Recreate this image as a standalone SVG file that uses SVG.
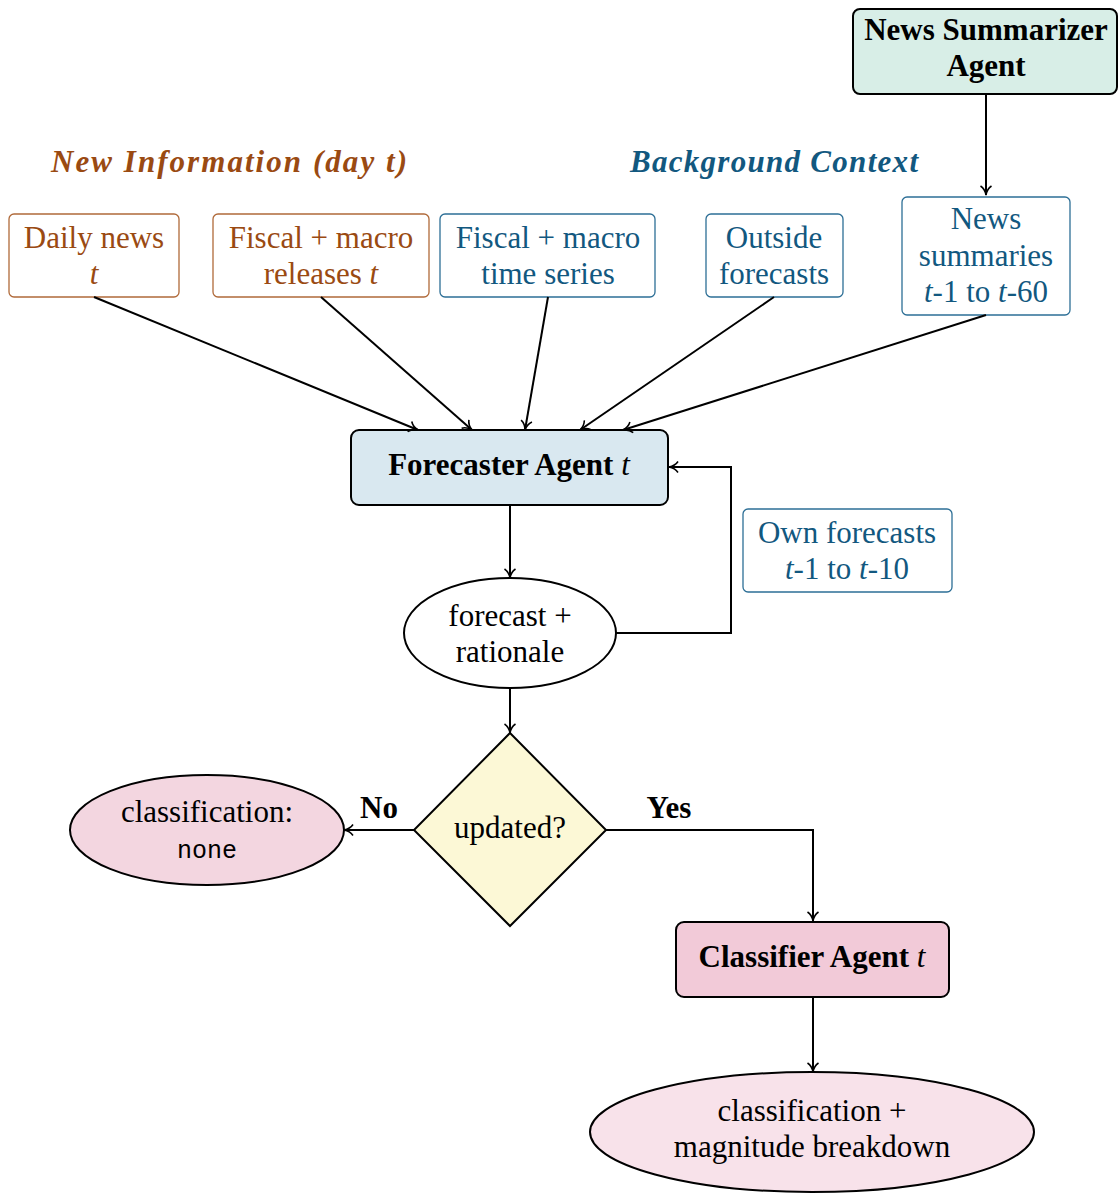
<svg xmlns="http://www.w3.org/2000/svg" width="1118" height="1194" viewBox="0 0 1118 1194">
<defs>
<marker id="arr" markerWidth="14" markerHeight="14" refX="11" refY="7" orient="auto" markerUnits="userSpaceOnUse">
<path d="M2,1.5 C4,4.5 7,6.3 11,7 C7,7.7 4,9.5 2,12.5" fill="none" stroke="#000" stroke-width="1.6"/>
</marker>
</defs>
<style>
text{font-family:"Liberation Serif","DejaVu Serif",serif;font-size:31px;text-anchor:middle}
.b{font-weight:bold}
.i{font-style:italic}
.brown{fill:#9a4a12}
.blue{fill:#12587f}
.boxb{fill:#fff;stroke:#b06a3a;stroke-width:1.3}
.boxl{fill:#fff;stroke:#2d6f96;stroke-width:1.3}
.agent{stroke:#000;stroke-width:2}
.mono{font-family:"Liberation Mono","DejaVu Sans Mono",monospace;font-size:25px}
.edge{fill:none;stroke:#000;stroke-width:2;marker-end:url(#arr)}
</style>
<rect width="1118" height="1194" fill="#fff"/>

<g id="title-new">
<text class="b i brown" x="229" y="172" font-size="32" textLength="356" lengthAdjust="spacing">New Information (day t)</text>
</g>
<g id="title-bg">
<text class="b i blue" x="774" y="172" font-size="32" textLength="288" lengthAdjust="spacing">Background Context</text>
</g>

<g id="news-summarizer">
<rect class="agent" x="853" y="9" width="264" height="85" rx="7" fill="#d8eee7"/>
<text class="b" x="986" y="40" font-size="32">News Summarizer</text>
<text class="b" x="986" y="76" font-size="32">Agent</text>
</g>

<g id="daily-news">
<rect class="boxb" x="9" y="214" width="170" height="83" rx="5"/>
<text class="brown" x="94" y="248">Daily news</text>
<text class="brown i" x="94" y="284">t</text>
</g>
<g id="fiscal-releases">
<rect class="boxb" x="213" y="214" width="216" height="83" rx="5"/>
<text class="brown" x="321" y="248">Fiscal + macro</text>
<text class="brown" x="321" y="284">releases <tspan class="i">t</tspan></text>
</g>
<g id="fiscal-series">
<rect class="boxl" x="440" y="214" width="215" height="83" rx="5"/>
<text class="blue" x="548" y="248">Fiscal + macro</text>
<text class="blue" x="548" y="284">time series</text>
</g>
<g id="outside-forecasts">
<rect class="boxl" x="706" y="214" width="137" height="83" rx="5"/>
<text class="blue" x="774" y="248">Outside</text>
<text class="blue" x="774" y="284">forecasts</text>
</g>
<g id="news-summaries">
<rect class="boxl" x="902" y="197" width="168" height="118" rx="5"/>
<text class="blue" x="986" y="229">News</text>
<text class="blue" x="986" y="266">summaries</text>
<text class="blue" x="986" y="302"><tspan class="i">t</tspan>-1 to <tspan class="i">t</tspan>-60</text>
</g>

<g id="forecaster">
<rect class="agent" x="351" y="430" width="317" height="75" rx="8" fill="#d9e8f0"/>
<text class="b" x="509" y="475" font-size="33">Forecaster Agent <tspan font-weight="normal" font-style="italic">t</tspan></text>
</g>

<g id="own-forecasts">
<rect class="boxl" x="743" y="509" width="209" height="83" rx="5"/>
<text class="blue" x="847" y="543">Own forecasts</text>
<text class="blue" x="847" y="579"><tspan class="i">t</tspan>-1 to <tspan class="i">t</tspan>-10</text>
</g>

<g id="forecast-rationale">
<ellipse cx="510" cy="633" rx="106" ry="55" fill="#fff" stroke="#000" stroke-width="2"/>
<text x="510" y="626">forecast +</text>
<text x="510" y="662">rationale</text>
</g>

<g id="updated">
<polygon points="510,733 606,830 510,926 414,830" fill="#fcf8d6" stroke="#000" stroke-width="2"/>
<text x="510" y="838">updated?</text>
</g>

<g id="class-none">
<ellipse cx="207" cy="830" rx="137" ry="55" fill="#f3d6e0" stroke="#000" stroke-width="2"/>
<text x="207" y="822">classification:</text>
<text class="mono" x="207" y="858">none</text>
</g>

<g id="classifier">
<rect class="agent" x="676" y="922" width="273" height="75" rx="8" fill="#f2cad8"/>
<text class="b" x="812" y="967" font-size="33">Classifier Agent <tspan font-weight="normal" font-style="italic">t</tspan></text>
</g>

<g id="class-magnitude">
<ellipse cx="812" cy="1132" rx="222" ry="60" fill="#f8e2ea" stroke="#000" stroke-width="2"/>
<text x="812" y="1121">classification +</text>
<text x="812" y="1157">magnitude breakdown</text>
</g>

<g id="connectors">
<path class="edge" d="M986,94 L986,195"/>
<path class="edge" d="M94,297 L418,430"/>
<path class="edge" d="M321,297 L472,430"/>
<path class="edge" d="M548,297 L525,430"/>
<path class="edge" d="M774,297 L580,430"/>
<path class="edge" d="M986,315 L623,430"/>
<path class="edge" d="M510,505 L510,578"/>
<path class="edge" d="M616,633 L731,633 L731,467 L669,467"/>
<path class="edge" d="M510,688 L510,733"/>
<path class="edge" d="M414,830 L344,830"/>
<path class="edge" d="M606,830 L813,830 L813,921"/>
<path class="edge" d="M813,997 L813,1072"/>
<text class="b" x="379" y="818" font-size="28">No</text>
<text class="b" x="669" y="818" font-size="28">Yes</text>
</g>
</svg>
